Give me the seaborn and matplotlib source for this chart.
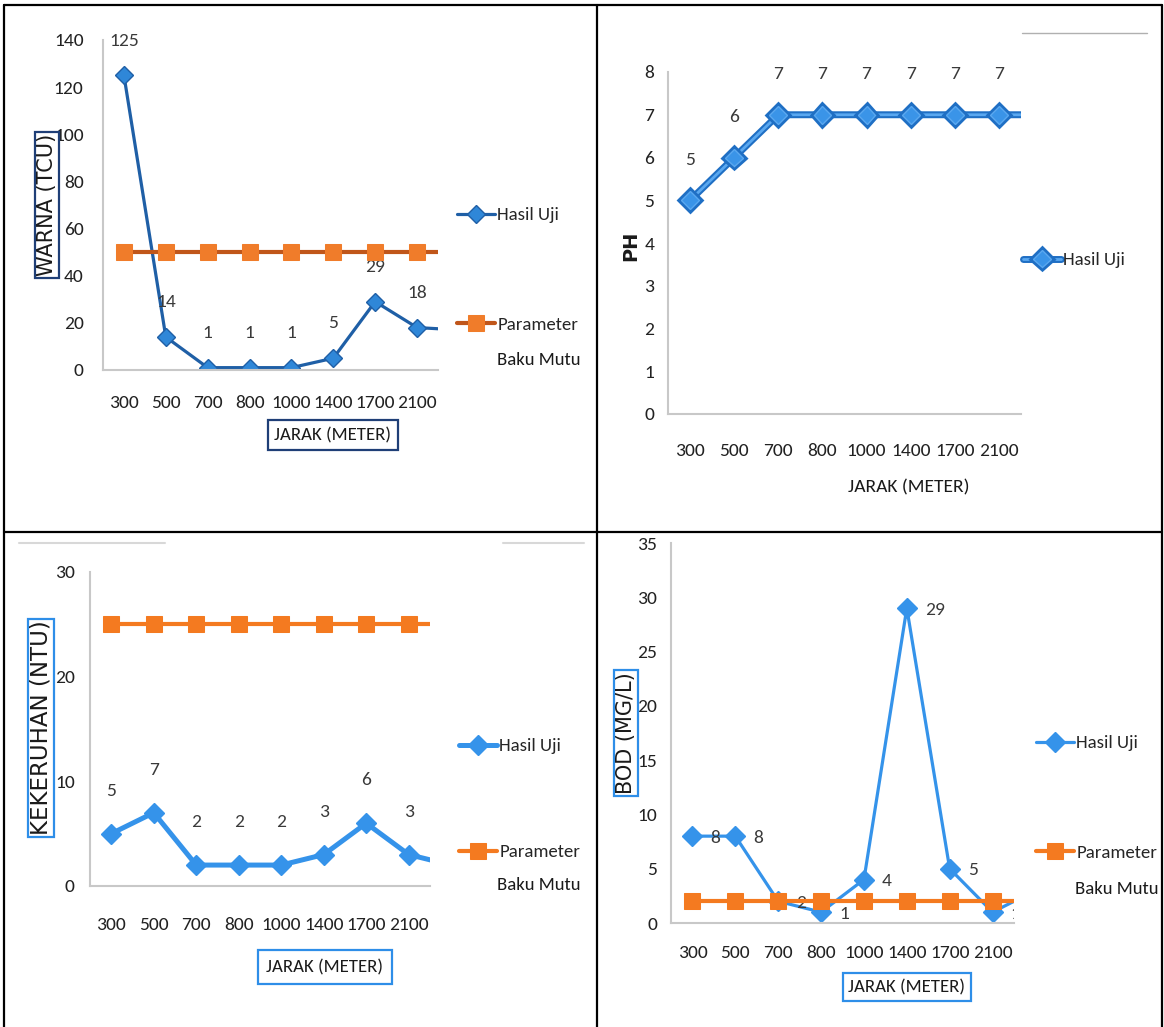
import numpy as np
import pandas as pd
import matplotlib
matplotlib.use("Agg")
import matplotlib.pyplot as plt
import matplotlib.patheffects as pe
from matplotlib.lines import Line2D
import seaborn as sns

# data (last value of each series is cut off by the axis edge)
jarak = ["300", "500", "700", "800", "1000", "1400", "1700", "2100"]

warna_hasil = [125, 14, 1, 1, 1, 5, 29, 18, 17]
warna_baku = [50, 50, 50, 50, 50, 50, 50, 50, 50]

ph_hasil = [5, 6, 7, 7, 7, 7, 7, 7, 7]

keruh_hasil = [5, 7, 2, 2, 2, 3, 6, 3, 2]
keruh_baku = [25, 25, 25, 25, 25, 25, 25, 25, 25]

bod_hasil = [8, 8, 2, 1, 4, 29, 5, 1, 3]
bod_baku = [2, 2, 2, 2, 2, 2, 2, 2, 2]

NARROW = ["Carlito", "Liberation Sans Narrow", "Roboto Condensed", "DejaVu Sans"]
FS = 13.5

sns.set_theme(style="white")
plt.rcParams["font.family"] = NARROW

W, H = 1164, 1027
fig = plt.figure(figsize=(W / 100, H / 100), dpi=100)


def fx(x, y):
    return x / W, 1 - y / H


def make_axes(l, t, r, b):
    return fig.add_axes([l / W, 1 - b / H, (r - l) / W, (b - t) / H])


def draw_panel(ax, hasil, baku, ymax, ystep, style):
    df = pd.DataFrame({"pos": np.arange(len(hasil)), "hasil": hasil})
    sns.lineplot(data=df, x="pos", y="hasil", ax=ax, color=style["hline"],
                 linewidth=style["hlw"], marker="D", markersize=style["hms"],
                 markerfacecolor=style["hface"], markeredgecolor=style["hline"],
                 markeredgewidth=1, label="Hasil Uji", zorder=2)
    if style.get("double"):
        ax.lines[-1].set_path_effects([pe.Stroke(linewidth=5, foreground="#1f6fc4"), pe.Normal()])
    if baku is not None:
        db = pd.DataFrame({"pos": np.arange(len(baku)), "baku": baku})
        sns.lineplot(data=db, x="pos", y="baku", ax=ax, color=style["bline"],
                     linewidth=style["blw"], marker="s", markersize=style["bms"],
                     markerfacecolor=style["bface"], markeredgecolor=style["bface"],
                     label="Parameter", zorder=3)

    # data labels
    for i in range(len(jarak)):
        t = ax.annotate(str(hasil[i]), (i, hasil[i]), xytext=style["lab_off"],
                        textcoords="offset points", ha=style.get("lab_ha", "center"),
                        va="center", fontsize=FS + 0.5, color="#3a3a3a", zorder=2.5,
                        annotation_clip=False)
        if style.get("clip"):
            t.set_clip_path(ax.patch)

    ax.set_xlim(-0.5, len(jarak) - 0.5)
    ax.set_ylim(0, ymax)
    ax.set_yticks(np.arange(0, ymax + ystep / 2, ystep))
    ax.set_xticks(np.arange(len(jarak)))
    ax.set_xticklabels(jarak)
    ax.set_xlabel("")
    ax.set_ylabel("")
    for s in ["top", "right"]:
        ax.spines[s].set_visible(False)
    for s in ["left", "bottom"]:
        ax.spines[s].set_color("#c8c8c8")
        ax.spines[s].set_linewidth(1.5)
    ax.tick_params(axis="x", length=0, pad=style["xpad"], labelsize=FS + 0.5, labelcolor="#222222")
    ax.tick_params(axis="y", length=0, pad=style["ypad"], labelsize=FS + 0.5, labelcolor="#222222")
    if style.get("ticks"):
        ax.set_xticks(np.arange(-0.5, len(jarak)), minor=True)
        ax.tick_params(axis="x", which="minor", length=7, width=1.2, color="#b0b0b0", direction="out")
        ax.tick_params(axis="y", length=4, width=1.2, color="#b0b0b0", direction="out")
    ax.patch.set_alpha(0)


def place_legend(ax, x, y, spacing):
    ax.legend(loc="upper left", bbox_to_anchor=fx(x, y - 11), bbox_transform=fig.transFigure,
              frameon=False, fontsize=FS, handlelength=2.0, handletextpad=0.15,
              borderpad=0, borderaxespad=0, labelspacing=spacing, numpoints=1)


def boxed(x, y, s, size, ec, rot=90, family="DejaVu Sans", color="#1a1a1a", pad=0.12):
    fig.text(*fx(x, y), s, rotation=rot, ha="center", va="center", fontsize=size,
             family=family, color=color,
             bbox=dict(boxstyle=f"square,pad={pad}", fc="white", ec=ec, lw=1.6))


# panel 1: WARNA
ax1 = make_axes(103, 40, 438, 370)
draw_panel(ax1, warna_hasil, warna_baku, 140, 20,
           dict(hline="#1f5fa6", hface="#2f87d8", hlw=2.3, hms=9,
                bline="#c0561a", bface="#f07c2a", blw=3, bms=11,
                lab_off=(0, 25), xpad=18, ypad=10, ticks=True))
place_legend(ax1, 457, 218, 5.0)
fig.text(*fx(497, 360), "Baku Mutu", fontsize=FS, va="center", ha="left", color="#1a1a1a")
boxed(47, 205, "WARNA (TCU)", 15, "#1f3f77", pad=0.1)
boxed(333, 435, "JARAK (METER)", FS, "#1f3f77", rot=0, family=NARROW, pad=0.35)

# panel 2: PH
ax2 = make_axes(668, 72, 1021, 414)
draw_panel(ax2, ph_hasil, None, 8, 1,
           dict(hline="#5aa8f0", hface="#3a94e8", hlw=2, hms=9, double=True,
                lab_off=(0, 29), xpad=21, ypad=10))
place_legend(ax2, 1023, 263, 5.0)
fig.text(*fx(631, 246), "PH", rotation=90, fontsize=14, ha="center", va="center",
         family="DejaVu Sans", color="#1a1a1a", weight="bold")
fig.text(*fx(909, 487), "JARAK (METER)", fontsize=FS + 0.5, ha="center", va="center", color="#1a1a1a")

# panel 3: KEKERUHAN
ax3 = make_axes(90, 572, 430, 886)
draw_panel(ax3, keruh_hasil, keruh_baku, 30, 10,
           dict(hline="#3593ea", hface="#3593ea", hlw=3.6, hms=10,
                bline="#f47a20", bface="#f47a20", blw=3, bms=12,
                lab_off=(0, 31), xpad=22, ypad=11))
place_legend(ax3, 459, 749, 4.8)
fig.text(*fx(497, 885), "Baku Mutu", fontsize=FS, va="center", ha="left", color="#1a1a1a")
boxed(41, 728, "KEKERUHAN (NTU)", 16.5, "#2e8ee8", pad=0.08)
boxed(325, 967, "JARAK (METER)", FS, "#2e8ee8", rot=0, family=NARROW, pad=0.45)

# panel 4: BOD
ax4 = make_axes(671, 543, 1014, 923)
draw_panel(ax4, bod_hasil, bod_baku, 35, 5,
           dict(hline="#3593ea", hface="#3593ea", hlw=2.3, hms=10,
                bline="#f47a20", bface="#f47a20", blw=3, bms=12,
                lab_off=(13, -1), lab_ha="left", xpad=16, ypad=10, clip=True))
place_legend(ax4, 1036, 746, 5.0)
fig.text(*fx(1075, 889), "Baku Mutu", fontsize=FS, va="center", ha="left", color="#1a1a1a")
boxed(626, 733, "BOD (MG/L)", 15, "#2e8ee8", pad=0.1)
boxed(907, 987, "JARAK (METER)", FS, "#2e8ee8", rot=0, family=NARROW, pad=0.3)


# table borders
def rule(x0, y0, x1, y1, color="black", lw=1.6):
    fig.add_artist(Line2D([x0 / W, x1 / W], [1 - y0 / H, 1 - y1 / H],
                          transform=fig.transFigure, color=color, lw=lw))


rule(4, 5, 1162, 5)
rule(4, 5, 4, 1027)
rule(1162, 5, 1162, 1027)
rule(597, 5, 597, 1027)
rule(4, 532, 1162, 532)
rule(1022, 33, 1147, 33, color="#b0b0b0", lw=1)
rule(19, 543, 165, 543, color="#d8d8d8", lw=1.5)
rule(503, 543, 584, 543, color="#d8d8d8", lw=1.5)

fig.savefig("out.png", dpi=100)
